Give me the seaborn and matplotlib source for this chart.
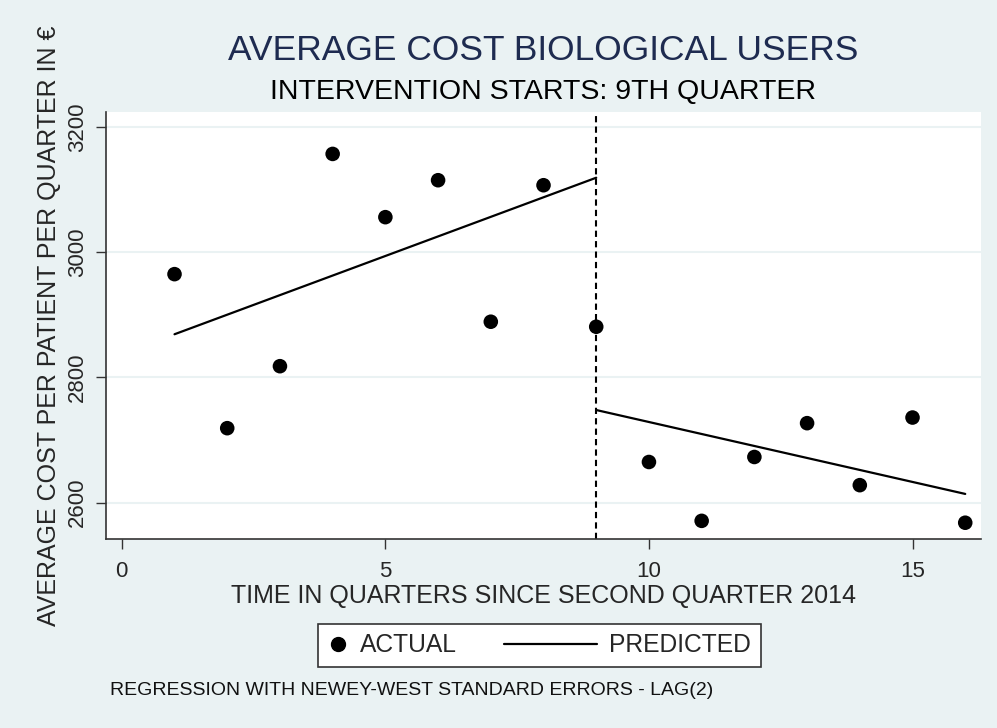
import matplotlib
matplotlib.use("Agg")
import matplotlib.pyplot as plt
from matplotlib.lines import Line2D
from matplotlib.legend_handler import HandlerLine2D
import pandas as pd
import seaborn as sns

quarters = list(range(1, 17))
actual = [2965, 2719, 2818, 3157, 3056, 3115, 2889, 3107,
          2881, 2665, 2571, 2673, 2727, 2628, 2736, 2568]
pred_x_pre = [1, 9]
pred_y_pre = [2869, 3119]
pred_x_post = [9, 16]
pred_y_post = [2748, 2614]
yticks = [2600, 2800, 3000, 3200]
xticks = [0, 5, 10, 15]

bg = "#eaf2f3"
navy = "#1e2b50"


class LongLine(HandlerLine2D):
    # stretch the line sample to the left so it is longer than the handle box
    def get_xdata(self, legend, xdescent, ydescent, width, height, fontsize):
        x = [-xdescent + width - 3.8 * fontsize, -xdescent + width]
        return x, x


sns.set_style("white")
plt.rcParams['font.family'] = ['Liberation Sans', 'DejaVu Sans']

df_act = pd.DataFrame({'quarter': quarters, 'cost': actual})
df_pred = pd.DataFrame({
    'quarter': pred_x_pre + pred_x_post,
    'cost': pred_y_pre + pred_y_post,
    'phase': ['pre'] * 2 + ['post'] * 2,
})

fig = plt.figure(figsize=(9.97, 7.28), dpi=100, facecolor=bg)
ax = fig.add_axes([0.1063, 0.2596, 0.8777, 0.5866])
ax.set_facecolor("white")

for y in yticks:
    ax.axhline(y, color=bg, lw=1.5, zorder=0)
ax.axvline(9, color="black", lw=1.5, ls=(0, (3, 2)), zorder=1)

sns.scatterplot(data=df_act, x='quarter', y='cost', ax=ax, color='black',
                s=110, edgecolor='none', zorder=3, legend=False)
for ph in ['pre', 'post']:
    sns.lineplot(data=df_pred[df_pred['phase'] == ph], x='quarter', y='cost', ax=ax,
                 color='black', lw=1.6, zorder=2, legend=False)

ax.set_xlim(-0.3, 16.3)
ax.set_ylim(2542, 3224)
ax.set_xticks(xticks)
ax.set_yticks(yticks)
ax.set_yticklabels([str(v) for v in yticks], rotation=90, va='center')
ax.tick_params(axis='both', direction='out', length=7, width=1, color='#333333',
               labelsize=16, left=True, bottom=True)
ax.tick_params(axis='x', pad=9)
ax.tick_params(axis='y', pad=6)
for side in ['top', 'right']:
    ax.spines[side].set_visible(False)
for side in ['left', 'bottom']:
    ax.spines[side].set_color('#333333')
    ax.spines[side].set_linewidth(1.2)

ax.set_xlabel('TIME IN QUARTERS SINCE SECOND QUARTER 2014', fontsize=18, labelpad=1)
ax.set_ylabel('AVERAGE COST PER PATIENT PER QUARTER IN €', fontsize=18, labelpad=4)

fig.text(0.545, 0.931, 'AVERAGE COST BIOLOGICAL USERS', ha='center', va='center',
         fontsize=25.5, color=navy)
fig.text(0.545, 0.874, 'INTERVENTION STARTS: 9TH QUARTER', ha='center', va='center',
         fontsize=20.5, color='black')
fig.text(0.11, 0.052, 'REGRESSION WITH NEWEY-WEST STANDARD ERRORS - LAG(2)',
         ha='left', va='center', fontsize=14, color='#111111')

h_act = Line2D([], [], marker='o', ls='none', color='black', markersize=10)
h_pred = Line2D([], [], color='black', lw=1.6)
leg = fig.legend([h_act, h_pred], ['ACTUAL', 'PREDICTED'], loc='center',
                 bbox_to_anchor=(0.5411, 0.1135), ncol=2, frameon=True, fancybox=False,
                 edgecolor='#333333', facecolor='white', framealpha=1, fontsize=17.7,
                 handlelength=0.8, handletextpad=0.5, columnspacing=4.9,
                 borderpad=0.4, handler_map={h_pred: LongLine()})
leg.get_frame().set_linewidth(1.2)

fig.savefig('out.png', dpi=100, facecolor=bg)
